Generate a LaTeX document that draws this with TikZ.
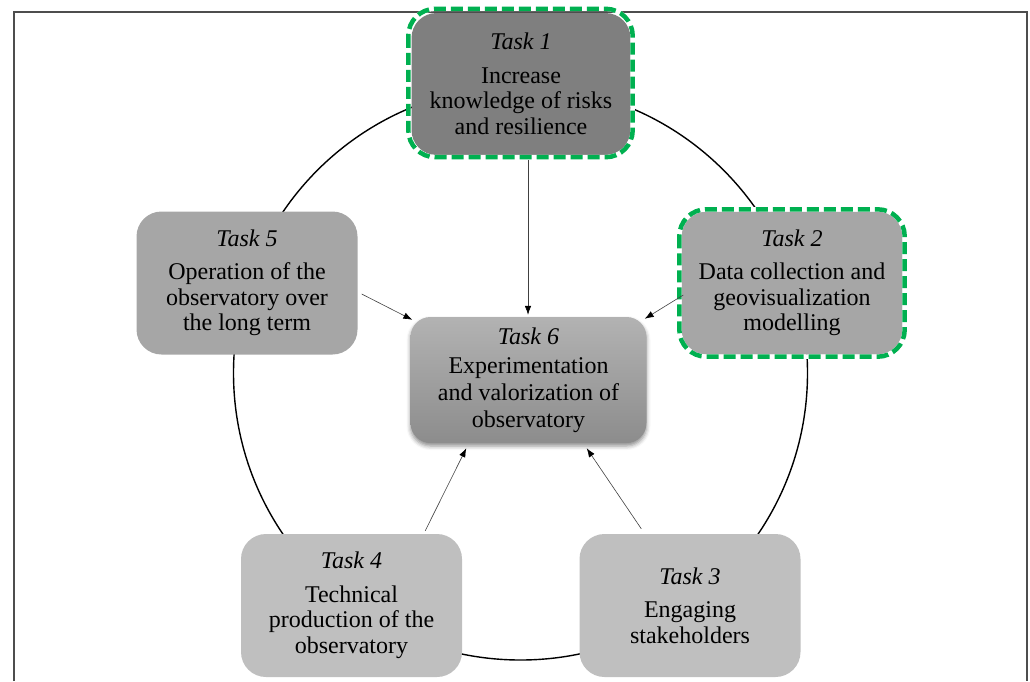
\documentclass[tikz,border=0pt]{standalone}
\usepackage{fontspec}
\setmainfont{Liberation Serif}
\usetikzlibrary{arrows.meta,calc,shadows.blur}
\definecolor{tgreen}{HTML}{00B050}
\definecolor{gdark}{HTML}{7F7F7F}
\definecolor{gmid}{HTML}{A6A6A6}
\definecolor{glight}{HTML}{BFBFBF}
\definecolor{frameclr}{HTML}{4D4D4D}
\tikzset{
  task/.style={rounded corners=25pt, inner sep=0pt, align=center,
    minimum width=221pt, minimum height=143pt,
    font=\fontsize{24}{25.5}\selectfont},
  greenborder/.style={draw=tgreen, line width=4.5pt, rounded corners=27pt,
    dash pattern=on 12pt off 5pt,
    preaction={draw=white, line width=4.5pt, solid}},
  conn/.style={draw=black!75, line width=0.6pt,
    -{Latex[color=black, length=9pt, width=6.5pt]}},
  ring/.style={draw=black, line width=1.4pt}
}
\begin{document}
\begin{tikzpicture}[x=1pt,y=-1pt]
\useasboundingbox (0,0) rectangle (1030,681);
% frame
\draw[frameclr, line width=1.6pt] (14,681) -- (14,12) -- (1027,12) -- (1027,681);
% ring
\coordinate (ctr) at (520.5,373);
\draw[ring] (ctr) circle[radius=287pt];
% boxes
\node[task, fill=gdark, minimum width=219pt, minimum height=142pt] (T1) at (521,84)
  {\textit{Task 1}\\[8pt]Increase\\knowledge of risks\\and resilience};
\node[task, fill=gmid] (T2) at (792,283)
  {\textit{Task 2}\\[8pt]Data collection and\\geovisualization\\modelling};
\node[task, fill=glight] (T3) at (690,605.5)
  {\textit{Task 3}\\[8pt]Engaging\\stakeholders};
\node[task, fill=glight] (T4) at (351.5,605.5)
  {\textit{Task 4}\\[8pt]Technical\\production of the\\observatory};
\node[task, fill=gmid] (T5) at (247,283)
  {\textit{Task 5}\\[8pt]Operation of the\\observatory over\\the long term};
\node[task, rounded corners=20pt, minimum width=236pt, minimum height=126pt,
  font=\fontsize{24}{27}\selectfont,
  top color=black!30, bottom color=black!45,
  blur shadow={shadow xshift=0pt, shadow yshift=-3pt, shadow blur radius=4pt, shadow opacity=45}]
  (T6) at (528.5,380)
  {\textit{Task 6}\\[2pt]Experimentation\\and valorization of\\observatory};
% green dashed borders
\draw[greenborder] ($(T1.north west)+(-3,-4)$) rectangle ($(T1.south east)+(2,2)$);
\draw[greenborder] ($(T2.north west)+(-2,-2)$) rectangle ($(T2.south east)+(2,2)$);
% arrows
\draw[conn] ($(T1.south)+(7,5)$) -- ($(T6.north)+(-0.5,-2)$);
\draw[conn] ($(T5.east)+(4,11)$) -- ($(T6.north west)+(2,3)$);
\draw[conn] ($(T2.west)+(2,12)$) -- ($(T6.north east)+(-2,2)$);
\draw[conn] ($(T4.north east)+(-37,-3)$) -- ($(T6.south west)+(56,5)$);
\draw[conn] ($(T3.north west)+(62,-5)$) -- ($(T6.south east)+(-60,5)$);
\end{tikzpicture}
\end{document}
